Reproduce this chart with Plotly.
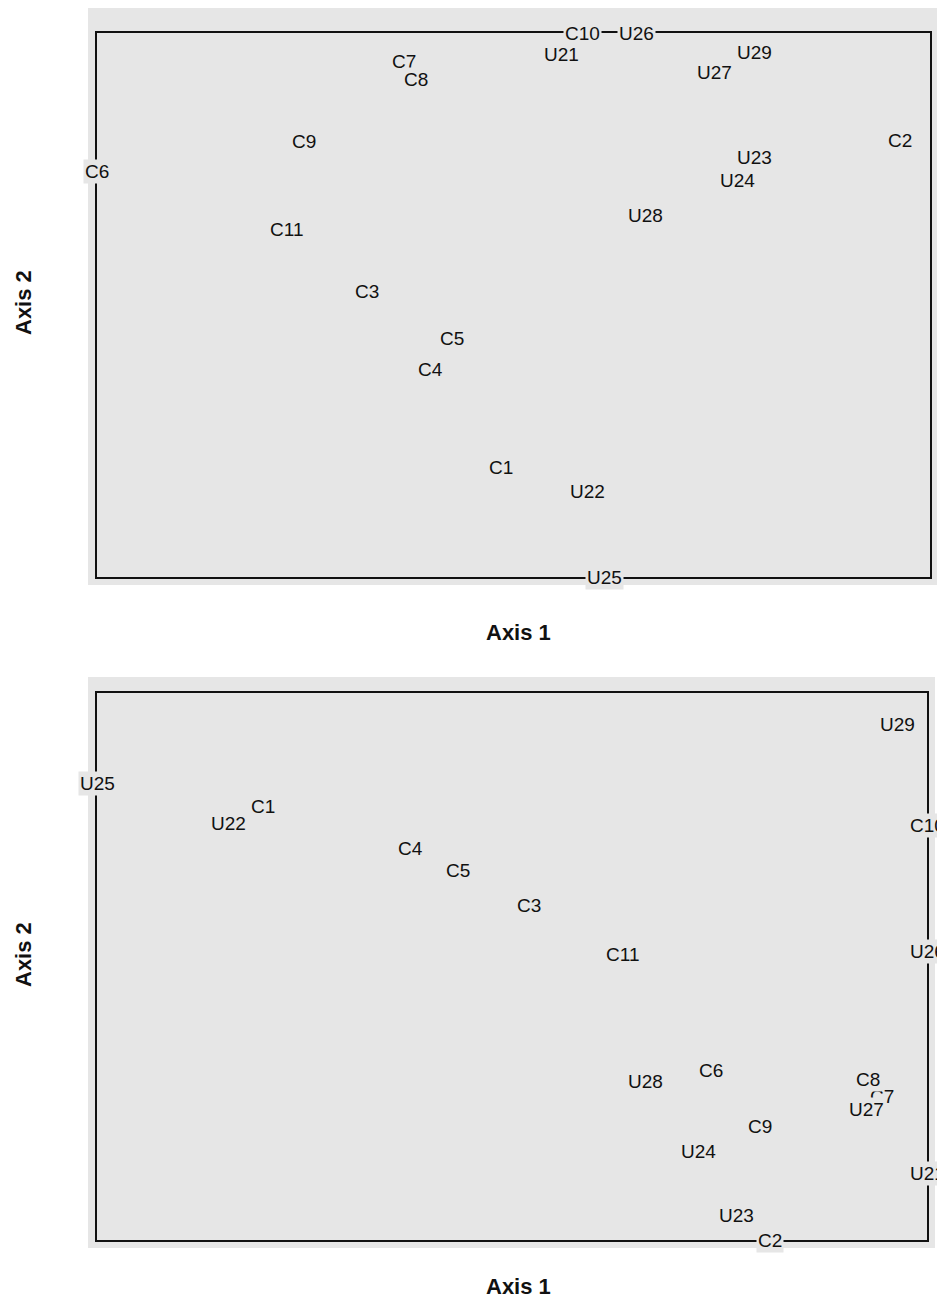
import plotly.graph_objects as go

# ---- data (ordination scores; frame spans 0..10 on both axes)
top_labels = ["C10", "U26", "U21", "U29", "U27", "C7", "C8", "C9", "C2", "C6",
              "U23", "U24", "U28", "C11", "C3", "C5", "C4", "C1", "U22", "U25"]
top_x = [5.83, 6.48, 5.58, 7.89, 7.41, 3.69, 3.83, 2.48, 9.64, 0.00,
         7.89, 7.69, 6.58, 2.28, 3.24, 4.26, 4.00, 4.85, 5.89, 6.09]
top_y = [10.0, 10.0, 9.60, 9.65, 9.28, 9.47, 9.14, 8.01, 8.03, 7.46,
         7.72, 7.28, 6.65, 6.38, 5.24, 4.38, 3.82, 2.02, 1.58, 0.00]

bot_labels = ["U29", "U25", "C1", "U22", "C10", "C4", "C5", "C3", "U26", "C11",
              "U28", "C6", "C7", "C8", "U27", "C9", "U24", "U21", "U23", "C2"]
bot_x = [9.64, 0.00, 2.00, 1.58, 10.0, 3.78, 4.35, 5.20, 10.0, 6.33,
         6.61, 7.40, 9.46, 9.29, 9.27, 7.99, 7.25, 10.0, 7.70, 8.11]
bot_y = [9.43, 8.34, 7.93, 7.61, 7.57, 7.15, 6.75, 6.11, 5.28, 5.22,
         2.89, 3.09, 2.63, 2.93, 2.38, 2.08, 1.61, 1.21, 0.44, 0.00]

x_title = "Axis 1"
y_title = "Axis 2"

# ---- styling
OFF = 8                      # the page body has an 8px margin
W, H = 945 - OFF, 1306 - OFF
BG = "#e6e6e6"
FONT = "Liberation Sans, Arial, Helvetica, sans-serif"

fig = go.Figure()

def px_x(p):
    return (p - OFF) / W

def px_y(p):
    return 1 - (p - OFF) / H

panels = [
    dict(xa="xaxis", ya="yaxis", xr="x", yr="y",
         frame=(97, 930, 33, 577), tex=(88, 940, 7, 585),
         labels=top_labels, xs=top_x, ys=top_y, ytitle_y=303, xtitle_y=632),
    dict(xa="xaxis2", ya="yaxis2", xr="x2", yr="y2",
         frame=(97, 927, 693, 1240), tex=(88, 935, 677, 1248),
         labels=bot_labels, xs=bot_x, ys=bot_y, ytitle_y=955, xtitle_y=1286),
]

annotations = []
shapes = []
for p in panels:
    l, r, t, b = p["frame"]
    tl, tr, tt, tb = p["tex"]
    shapes.append(dict(type="rect", xref="paper", yref="paper",
                       x0=px_x(tl), x1=px_x(tr), y0=px_y(tb), y1=px_y(tt),
                       fillcolor=BG, line=dict(width=0), layer="below"))
    fig.update_layout(**{
        p["xa"]: dict(domain=[px_x(l), px_x(r)], range=[0, 10], anchor=p["yr"],
                      showgrid=False, zeroline=False, showticklabels=False,
                      ticks="", showline=True, mirror=True, linecolor="#111",
                      linewidth=2),
        p["ya"]: dict(domain=[px_y(b), px_y(t)], range=[0, 10], anchor=p["xr"],
                      showgrid=False, zeroline=False, showticklabels=False,
                      ticks="", showline=True, mirror=True, linecolor="#111",
                      linewidth=2),
    })
    fig.add_trace(go.Scatter(x=p["xs"], y=p["ys"], mode="markers",
                             marker=dict(opacity=0), hoverinfo="text",
                             text=p["labels"], showlegend=False,
                             xaxis=p["xr"], yaxis=p["yr"]))
    for lab, xv, yv in zip(p["labels"], p["xs"], p["ys"]):
        annotations.append(dict(x=xv, y=yv, xref=p["xr"], yref=p["yr"],
                                text=lab, showarrow=False, bgcolor=BG,
                                borderpad=1, xanchor="center", yanchor="middle",
                                font=dict(family=FONT, size=19, color="#111")))
    annotations.append(dict(x=px_x(518), y=px_y(p["xtitle_y"]), xref="paper", yref="paper",
                            text="<b>%s</b>" % x_title, showarrow=False,
                            xanchor="center", yanchor="middle",
                            font=dict(family=FONT, size=22, color="#111")))
    annotations.append(dict(x=px_x(23), y=px_y(p["ytitle_y"]), xref="paper", yref="paper",
                            text="<b>%s</b>" % y_title, showarrow=False, textangle=-90,
                            xanchor="center", yanchor="middle",
                            font=dict(family=FONT, size=22, color="#111")))

fig.update_layout(width=W, height=H, margin=dict(l=0, r=0, t=0, b=0),
                  paper_bgcolor="white", plot_bgcolor=BG,
                  annotations=annotations, shapes=shapes, showlegend=False)

fig.write_html("out.html")
